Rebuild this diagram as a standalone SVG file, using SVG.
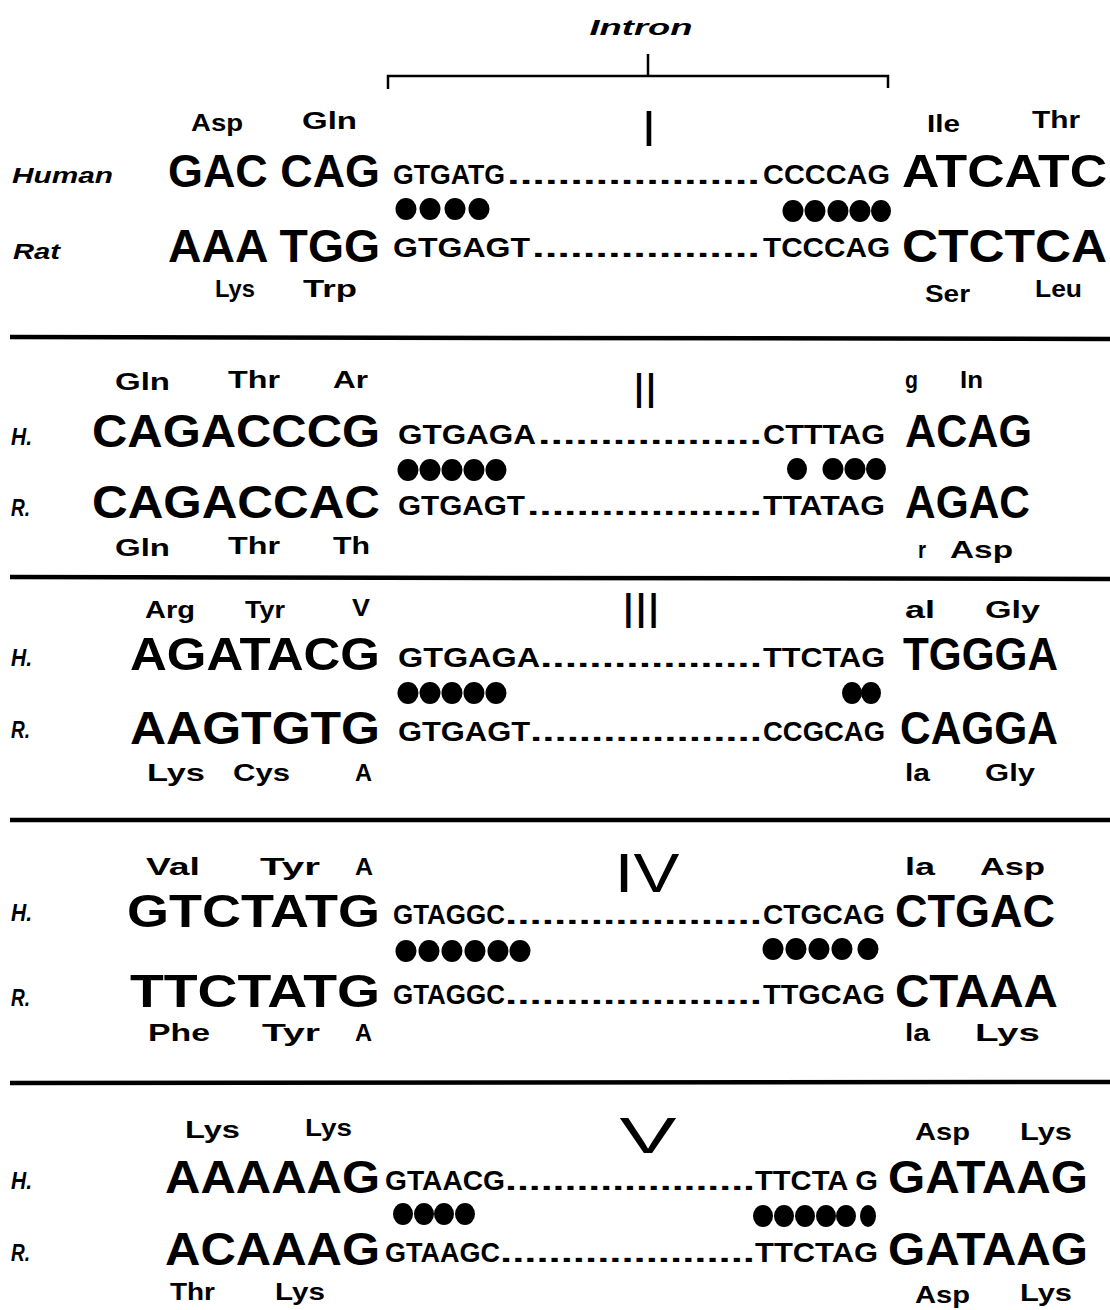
<svg xmlns="http://www.w3.org/2000/svg" width="1110" height="1310" viewBox="0 0 1110 1310">
<style>
text{fill:#000;font-family:"Liberation Sans",Arial,sans-serif}
.big{font-weight:bold;font-size:46px}
.sm{font-weight:bold;font-size:28px}
.aa{font-weight:bold;font-size:24px}
.sp{font-weight:bold;font-style:italic;font-size:22px}
.hr{font-weight:bold;font-style:italic;font-size:24px}
.rn{font-size:50px;text-anchor:middle}
.sep{stroke:#000;stroke-width:4.5;fill:none}
.br{stroke:#000;stroke-width:2.5;fill:none}
ellipse{fill:#000}
</style>
<rect width="1110" height="1310" fill="#fff"/>
<g id="header">
<text class="sp" x="641" y="35" text-anchor="middle" textLength="103" lengthAdjust="spacingAndGlyphs">Intron</text>
<path class="br" d="M388,89 V76 H888 V88 M648,54 V76"/>
</g>
<g id="separators">
<line class="sep" x1="10" y1="337" x2="1110" y2="339"/>
<line class="sep" x1="10" y1="577" x2="1110" y2="579"/>
<line class="sep" x1="10" y1="820" x2="1110" y2="820"/>
<line class="sep" x1="10" y1="1083" x2="1110" y2="1082"/>
</g>
<g id="panel1">
<text class="rn" x="649" y="146">I</text>
<text class="aa" x="191" y="131" textLength="52" lengthAdjust="spacingAndGlyphs">Asp</text>
<text class="aa" x="302" y="129" textLength="55" lengthAdjust="spacingAndGlyphs">Gln</text>
<text class="aa" x="927" y="132" textLength="33" lengthAdjust="spacingAndGlyphs">Ile</text>
<text class="aa" x="1032" y="128" textLength="48" lengthAdjust="spacingAndGlyphs">Thr</text>
<text class="sp" x="12" y="183" textLength="101" lengthAdjust="spacingAndGlyphs">Human</text>
<text class="big" x="168" y="187" textLength="212" lengthAdjust="spacingAndGlyphs">GAC CAG</text>
<text class="sm" x="393" y="184" textLength="112" lengthAdjust="spacingAndGlyphs">GTGATG</text>
<text class="sm" x="507" y="184" textLength="253" lengthAdjust="spacingAndGlyphs">....................</text>
<text class="sm" x="763" y="184" textLength="127" lengthAdjust="spacingAndGlyphs">CCCCAG</text>
<text class="big" x="902" y="187" textLength="205" lengthAdjust="spacingAndGlyphs">ATCATC</text>
<ellipse cx="406" cy="209" rx="10.5" ry="11"/><ellipse cx="430" cy="209" rx="10.5" ry="11"/><ellipse cx="455" cy="209" rx="10.5" ry="11"/><ellipse cx="479" cy="209" rx="10.5" ry="11"/>
<ellipse cx="793" cy="211" rx="10.5" ry="11"/><ellipse cx="815" cy="211" rx="10.5" ry="11"/><ellipse cx="838" cy="211" rx="10.5" ry="11"/><ellipse cx="860" cy="211" rx="10.5" ry="11"/><ellipse cx="881" cy="211" rx="10" ry="11"/>
<text class="sp" x="13" y="259" textLength="47" lengthAdjust="spacingAndGlyphs">Rat</text>
<text class="big" x="168" y="262" textLength="212" lengthAdjust="spacingAndGlyphs">AAA TGG</text>
<text class="sm" x="393" y="257" textLength="137" lengthAdjust="spacingAndGlyphs">GTGAGT</text>
<text class="sm" x="532" y="257" textLength="228" lengthAdjust="spacingAndGlyphs">..................</text>
<text class="sm" x="763" y="257" textLength="127" lengthAdjust="spacingAndGlyphs">TCCCAG</text>
<text class="big" x="902" y="262" textLength="205" lengthAdjust="spacingAndGlyphs">CTCTCA</text>
<text class="aa" x="215" y="297" textLength="40" lengthAdjust="spacingAndGlyphs">Lys</text>
<text class="aa" x="303" y="297" textLength="54" lengthAdjust="spacingAndGlyphs">Trp</text>
<text class="aa" x="925" y="302" textLength="45" lengthAdjust="spacingAndGlyphs">Ser</text>
<text class="aa" x="1035" y="297" textLength="47" lengthAdjust="spacingAndGlyphs">Leu</text>
</g>
<g id="panel2">
<text class="rn" x="645" y="408" textLength="24" lengthAdjust="spacingAndGlyphs">II</text>
<text class="aa" x="115" y="390" textLength="55" lengthAdjust="spacingAndGlyphs">Gln</text>
<text class="aa" x="228" y="388" textLength="52" lengthAdjust="spacingAndGlyphs">Thr</text>
<text class="aa" x="333" y="388" textLength="35" lengthAdjust="spacingAndGlyphs">Ar</text>
<text class="aa" x="905" y="388" textLength="13" lengthAdjust="spacingAndGlyphs">g</text>
<text class="aa" x="960" y="388" textLength="23" lengthAdjust="spacingAndGlyphs">In</text>
<text class="hr" x="11" y="445" textLength="21" lengthAdjust="spacingAndGlyphs">H.</text>
<text class="big" x="92" y="447" textLength="288" lengthAdjust="spacingAndGlyphs">CAGACCCG</text>
<text class="sm" x="398" y="444" textLength="138" lengthAdjust="spacingAndGlyphs">GTGAGA</text>
<text class="sm" x="538" y="444" textLength="224" lengthAdjust="spacingAndGlyphs">..................</text>
<text class="sm" x="763" y="444" textLength="122" lengthAdjust="spacingAndGlyphs">CTTTAG</text>
<text class="big" x="905" y="447" textLength="127" lengthAdjust="spacingAndGlyphs">ACAG</text>
<ellipse cx="408" cy="470" rx="10.5" ry="11"/><ellipse cx="430" cy="470" rx="10.5" ry="11"/><ellipse cx="452" cy="470" rx="10.5" ry="11"/><ellipse cx="474" cy="470" rx="10.5" ry="11"/><ellipse cx="496" cy="470" rx="10.5" ry="11"/>
<ellipse cx="797" cy="469" rx="10" ry="11"/><ellipse cx="833" cy="469" rx="10.5" ry="11"/><ellipse cx="855" cy="469" rx="10.5" ry="11"/><ellipse cx="876" cy="469" rx="10" ry="11"/>
<text class="hr" x="11" y="516" textLength="19" lengthAdjust="spacingAndGlyphs">R.</text>
<text class="big" x="92" y="518" textLength="288" lengthAdjust="spacingAndGlyphs">CAGACCAC</text>
<text class="sm" x="398" y="515" textLength="127" lengthAdjust="spacingAndGlyphs">GTGAGT</text>
<text class="sm" x="527" y="515" textLength="235" lengthAdjust="spacingAndGlyphs">...................</text>
<text class="sm" x="763" y="515" textLength="122" lengthAdjust="spacingAndGlyphs">TTATAG</text>
<text class="big" x="905" y="518" textLength="125" lengthAdjust="spacingAndGlyphs">AGAC</text>
<text class="aa" x="115" y="556" textLength="55" lengthAdjust="spacingAndGlyphs">Gln</text>
<text class="aa" x="228" y="554" textLength="52" lengthAdjust="spacingAndGlyphs">Thr</text>
<text class="aa" x="333" y="554" textLength="37" lengthAdjust="spacingAndGlyphs">Th</text>
<text class="aa" x="918" y="558" textLength="8" lengthAdjust="spacingAndGlyphs">r</text>
<text class="aa" x="950" y="558" textLength="63" lengthAdjust="spacingAndGlyphs">Asp</text>
</g>
<g id="panel3">
<text class="rn" x="641" y="628" textLength="38" lengthAdjust="spacingAndGlyphs">III</text>
<text class="aa" x="145" y="618" textLength="50" lengthAdjust="spacingAndGlyphs">Arg</text>
<text class="aa" x="245" y="618" textLength="40" lengthAdjust="spacingAndGlyphs">Tyr</text>
<text class="aa" x="352" y="616" textLength="18" lengthAdjust="spacingAndGlyphs">V</text>
<text class="aa" x="905" y="618" textLength="30" lengthAdjust="spacingAndGlyphs">al</text>
<text class="aa" x="985" y="618" textLength="55" lengthAdjust="spacingAndGlyphs">Gly</text>
<text class="hr" x="11" y="666" textLength="21" lengthAdjust="spacingAndGlyphs">H.</text>
<text class="big" x="130" y="670" textLength="250" lengthAdjust="spacingAndGlyphs">AGATACG</text>
<text class="sm" x="398" y="667" textLength="142" lengthAdjust="spacingAndGlyphs">GTGAGA</text>
<text class="sm" x="540" y="667" textLength="222" lengthAdjust="spacingAndGlyphs">..................</text>
<text class="sm" x="763" y="667" textLength="122" lengthAdjust="spacingAndGlyphs">TTCTAG</text>
<text class="big" x="903" y="670" textLength="155" lengthAdjust="spacingAndGlyphs">TGGGA</text>
<ellipse cx="408" cy="693" rx="10.5" ry="11"/><ellipse cx="430" cy="693" rx="10.5" ry="11"/><ellipse cx="452" cy="693" rx="10.5" ry="11"/><ellipse cx="474" cy="693" rx="10.5" ry="11"/><ellipse cx="496" cy="693" rx="10.5" ry="11"/>
<ellipse cx="852" cy="693" rx="10" ry="11"/><ellipse cx="871" cy="693" rx="10" ry="11"/>
<text class="hr" x="11" y="738" textLength="19" lengthAdjust="spacingAndGlyphs">R.</text>
<text class="big" x="130" y="744" textLength="250" lengthAdjust="spacingAndGlyphs">AAGTGTG</text>
<text class="sm" x="398" y="741" textLength="132" lengthAdjust="spacingAndGlyphs">GTGAGT</text>
<text class="sm" x="530" y="741" textLength="232" lengthAdjust="spacingAndGlyphs">...................</text>
<text class="sm" x="763" y="741" textLength="122" lengthAdjust="spacingAndGlyphs">CCGCAG</text>
<text class="big" x="900" y="744" textLength="158" lengthAdjust="spacingAndGlyphs">CAGGA</text>
<text class="aa" x="147" y="781" textLength="58" lengthAdjust="spacingAndGlyphs">Lys</text>
<text class="aa" x="233" y="781" textLength="57" lengthAdjust="spacingAndGlyphs">Cys</text>
<text class="aa" x="355" y="781" textLength="17" lengthAdjust="spacingAndGlyphs">A</text>
<text class="aa" x="905" y="781" textLength="25" lengthAdjust="spacingAndGlyphs">la</text>
<text class="aa" x="985" y="781" textLength="50" lengthAdjust="spacingAndGlyphs">Gly</text>
</g>
<g id="panel4">
<text class="rn" x="647" y="892" style="font-size:55px" textLength="65" lengthAdjust="spacingAndGlyphs">IV</text>
<text class="aa" x="146" y="875" textLength="54" lengthAdjust="spacingAndGlyphs">Val</text>
<text class="aa" x="260" y="875" textLength="60" lengthAdjust="spacingAndGlyphs">Tyr</text>
<text class="aa" x="355" y="875" textLength="18" lengthAdjust="spacingAndGlyphs">A</text>
<text class="aa" x="905" y="875" textLength="30" lengthAdjust="spacingAndGlyphs">la</text>
<text class="aa" x="980" y="875" textLength="65" lengthAdjust="spacingAndGlyphs">Asp</text>
<text class="hr" x="11" y="921" textLength="21" lengthAdjust="spacingAndGlyphs">H.</text>
<text class="big" x="127" y="927" textLength="253" lengthAdjust="spacingAndGlyphs">GTCTATG</text>
<text class="sm" x="393" y="924" textLength="112" lengthAdjust="spacingAndGlyphs">GTAGGC</text>
<text class="sm" x="505" y="924" textLength="257" lengthAdjust="spacingAndGlyphs">.....................</text>
<text class="sm" x="763" y="924" textLength="122" lengthAdjust="spacingAndGlyphs">CTGCAG</text>
<text class="big" x="895" y="927" textLength="160" lengthAdjust="spacingAndGlyphs">CTGAC</text>
<ellipse cx="406" cy="951" rx="10.5" ry="11"/><ellipse cx="429" cy="951" rx="10.5" ry="11"/><ellipse cx="452" cy="951" rx="10.5" ry="11"/><ellipse cx="475" cy="951" rx="10.5" ry="11"/><ellipse cx="498" cy="951" rx="10.5" ry="11"/><ellipse cx="520" cy="951" rx="10.5" ry="11"/>
<ellipse cx="773" cy="949" rx="10.5" ry="11"/><ellipse cx="796" cy="949" rx="10.5" ry="11"/><ellipse cx="819" cy="949" rx="10.5" ry="11"/><ellipse cx="842" cy="949" rx="10.5" ry="11"/><ellipse cx="868" cy="949" rx="10.5" ry="11"/>
<text class="hr" x="11" y="1006" textLength="19" lengthAdjust="spacingAndGlyphs">R.</text>
<text class="big" x="130" y="1007" textLength="250" lengthAdjust="spacingAndGlyphs">TTCTATG</text>
<text class="sm" x="393" y="1004" textLength="112" lengthAdjust="spacingAndGlyphs">GTAGGC</text>
<text class="sm" x="505" y="1004" textLength="257" lengthAdjust="spacingAndGlyphs">.....................</text>
<text class="sm" x="763" y="1004" textLength="122" lengthAdjust="spacingAndGlyphs">TTGCAG</text>
<text class="big" x="895" y="1007" textLength="163" lengthAdjust="spacingAndGlyphs">CTAAA</text>
<text class="aa" x="148" y="1041" textLength="62" lengthAdjust="spacingAndGlyphs">Phe</text>
<text class="aa" x="262" y="1041" textLength="58" lengthAdjust="spacingAndGlyphs">Tyr</text>
<text class="aa" x="355" y="1041" textLength="17" lengthAdjust="spacingAndGlyphs">A</text>
<text class="aa" x="905" y="1041" textLength="25" lengthAdjust="spacingAndGlyphs">la</text>
<text class="aa" x="975" y="1041" textLength="65" lengthAdjust="spacingAndGlyphs">Lys</text>
</g>
<g id="panel5">
<text class="rn" x="648" y="1153" textLength="57" lengthAdjust="spacingAndGlyphs">V</text>
<text class="aa" x="185" y="1138" textLength="55" lengthAdjust="spacingAndGlyphs">Lys</text>
<text class="aa" x="305" y="1136" textLength="47" lengthAdjust="spacingAndGlyphs">Lys</text>
<text class="aa" x="915" y="1140" textLength="55" lengthAdjust="spacingAndGlyphs">Asp</text>
<text class="aa" x="1020" y="1140" textLength="52" lengthAdjust="spacingAndGlyphs">Lys</text>
<text class="hr" x="11" y="1189" textLength="21" lengthAdjust="spacingAndGlyphs">H.</text>
<text class="big" x="165" y="1193" textLength="215" lengthAdjust="spacingAndGlyphs">AAAAAG</text>
<text class="sm" x="385" y="1190" textLength="120" lengthAdjust="spacingAndGlyphs">GTAACG</text>
<text class="sm" x="505" y="1190" textLength="250" lengthAdjust="spacingAndGlyphs">.....................</text>
<text class="sm" x="755" y="1190" textLength="123" lengthAdjust="spacingAndGlyphs">TTCTA G</text>
<text class="big" x="888" y="1193" textLength="200" lengthAdjust="spacingAndGlyphs">GATAAG</text>
<ellipse cx="403" cy="1214" rx="10" ry="11"/><ellipse cx="424" cy="1214" rx="10" ry="11"/><ellipse cx="444" cy="1214" rx="10" ry="11"/><ellipse cx="465" cy="1214" rx="10" ry="11"/>
<ellipse cx="763" cy="1216" rx="10" ry="11"/><ellipse cx="784" cy="1216" rx="10" ry="11"/><ellipse cx="805" cy="1216" rx="10" ry="11"/><ellipse cx="826" cy="1216" rx="10" ry="11"/><ellipse cx="846" cy="1216" rx="10" ry="11"/><ellipse cx="868" cy="1216" rx="8" ry="11"/>
<text class="hr" x="11" y="1261" textLength="19" lengthAdjust="spacingAndGlyphs">R.</text>
<text class="big" x="165" y="1265" textLength="215" lengthAdjust="spacingAndGlyphs">ACAAAG</text>
<text class="sm" x="385" y="1262" textLength="115" lengthAdjust="spacingAndGlyphs">GTAAGC</text>
<text class="sm" x="500" y="1262" textLength="255" lengthAdjust="spacingAndGlyphs">.....................</text>
<text class="sm" x="755" y="1262" textLength="123" lengthAdjust="spacingAndGlyphs">TTCTAG</text>
<text class="big" x="888" y="1265" textLength="200" lengthAdjust="spacingAndGlyphs">GATAAG</text>
<text class="aa" x="170" y="1300" textLength="45" lengthAdjust="spacingAndGlyphs">Thr</text>
<text class="aa" x="275" y="1300" textLength="50" lengthAdjust="spacingAndGlyphs">Lys</text>
<text class="aa" x="915" y="1303" textLength="55" lengthAdjust="spacingAndGlyphs">Asp</text>
<text class="aa" x="1020" y="1301" textLength="52" lengthAdjust="spacingAndGlyphs">Lys</text>
</g>
</svg>
